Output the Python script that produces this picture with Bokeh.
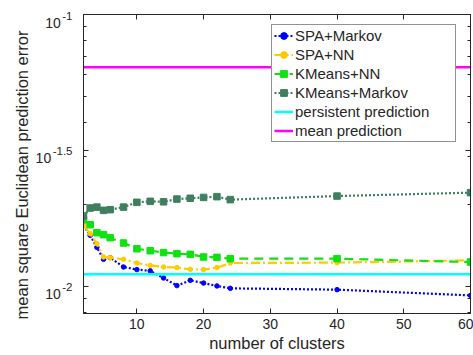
import math

from bokeh.plotting import figure
from bokeh.layouts import row
from bokeh.models import (Range1d, FixedTicker, LinearAxis, LogAxis, Legend,
                          LegendItem, CustomJSTickFormatter)
from bokeh.core.properties import value
from bokeh.embed import file_html
from bokeh.resources import INLINE

# ---- data -------------------------------------------------------------
n_clusters = [2, 3, 4, 5, 6, 8, 10, 12, 14, 16, 18, 20, 22, 24, 40, 60]

spa_markov = [0.01676, 0.01540, 0.01391, 0.01257, 0.01275, 0.01178, 0.01152, 0.01140,
              0.01073, 0.01006, 0.01052, 0.01028, 0.01003, 0.00983, 0.00972, 0.00926]
spa_nn = [0.01676, 0.01562, 0.01435, 0.01282, 0.01275, 0.01257, 0.01218, 0.01194,
          0.01178, 0.01172, 0.01155, 0.01152, 0.01172, 0.01218, 0.01222, 0.01246]
kmeans_nn = [0.01758, 0.01685, 0.01575, 0.01549, 0.01510, 0.01443, 0.01375, 0.01352,
             0.01331, 0.01319, 0.01311, 0.01282, 0.01278, 0.01264, 0.01264, 0.01228]
kmeans_markov = [0.01813, 0.01941, 0.01956, 0.01903, 0.01914, 0.01956, 0.02037, 0.02054,
                 0.02046, 0.02094, 0.02108, 0.02124, 0.02137, 0.02084, 0.02148, 0.02211]
persistent_error = 0.01107
mean_error = 0.0640

x_ticks = [10, 20, 30, 40, 50, 60]
y_exponents = [-2, -1.5, -1]
y_exponent_labels = ["-2", "-1.5", "-1"]
y_minor = [0.008, 0.009, 0.02, 0.03, 0.04, 0.05, 0.06, 0.07, 0.08, 0.09]
y_limits = (10 ** -2.1, 10 ** -1)
x_limits = (2, 60)

# ---- layout / styling -------------------------------------------------
FONT = "Liberation Sans"
AX = "#262626"
TXT = "#262626"

W, H = 473, 355
SIDE_W = 78              # strip holding the y tick labels and the y title
FRAME_LEFT = 83
FRAME_TOP = 14
FRAME_BOTTOM = 313

y_major = [10 ** e for e in y_exponents]
blank = CustomJSTickFormatter(code="return ''")

p = figure(width=W - SIDE_W, height=H, output_backend="svg", toolbar_location=None,
           y_axis_type="log",
           x_range=Range1d(*x_limits), y_range=Range1d(*y_limits),
           min_border_left=FRAME_LEFT - SIDE_W, min_border_right=3,
           min_border_top=FRAME_TOP, min_border_bottom=H - FRAME_BOTTOM)
p.frame_align = False
p.xgrid.visible = False
p.ygrid.visible = False
p.outline_line_color = AX
p.outline_line_width = 1
p.background_fill_color = "white"
p.border_fill_color = "white"

p.xaxis.ticker = FixedTicker(ticks=x_ticks)
p.yaxis.ticker = FixedTicker(ticks=y_major, minor_ticks=y_minor)
p.yaxis.formatter = blank
p.yaxis.major_label_standoff = 0

for ax in (p.xaxis[0], p.yaxis[0]):
    ax.axis_line_color = AX
    ax.major_tick_line_color = AX
    ax.minor_tick_line_color = AX
    ax.major_tick_in = 5
    ax.major_tick_out = 0
    ax.minor_tick_in = 3
    ax.minor_tick_out = 0

p.xaxis.major_label_text_font = FONT
p.xaxis.major_label_text_font_size = "14px"
p.xaxis.major_label_text_color = TXT
p.xaxis.major_label_standoff = 5
p.xaxis.axis_label = "number of clusters"
p.xaxis.axis_label_text_font = FONT
p.xaxis.axis_label_text_font_size = "16.5px"
p.xaxis.axis_label_text_font_style = "normal"
p.xaxis.axis_label_text_color = TXT
p.xaxis.axis_label_standoff = 2

# mirrored axes so the box carries inward ticks on every side
top = LinearAxis(ticker=FixedTicker(ticks=x_ticks), formatter=blank,
                 major_tick_in=5, major_tick_out=0, major_label_standoff=0,
                 axis_line_color=AX, major_tick_line_color=AX)
right = LogAxis(ticker=FixedTicker(ticks=y_major, minor_ticks=y_minor), formatter=blank,
                major_tick_in=5, major_tick_out=0, minor_tick_in=3, minor_tick_out=0,
                major_label_standoff=0, axis_line_color=AX,
                major_tick_line_color=AX, minor_tick_line_color=AX)
p.add_layout(top, "above")
p.add_layout(right, "right")

# ---- series -----------------------------------------------------------
BLUE = "#0000ff"
GOLD = "#ffcc00"
GREEN = "#11e011"
DKGREEN = "#3f7f5f"
CYAN = "#00ffff"
MAGENTA = "#ff00ff"

l1 = p.line(n_clusters, spa_markov, color=BLUE, line_width=2.2, line_dash="2 2")
s1 = p.scatter(n_clusters, spa_markov, marker="circle", size=4.5, color=BLUE)

l2 = p.line(n_clusters, spa_nn, color=GOLD, line_width=2.2, line_dash="9 3 2 3")
s2 = p.scatter(n_clusters, spa_nn, marker="circle", size=4.5, color=GOLD)

l3 = p.line(n_clusters, kmeans_nn, color=GREEN, line_width=2.2, line_dash="9 6")
s3 = p.scatter(n_clusters, kmeans_nn, marker="square", size=6.5, color=GREEN)

l4 = p.line(n_clusters, kmeans_markov, color=DKGREEN, line_width=2.2, line_dash="2 2")
s4 = p.scatter(n_clusters, kmeans_markov, marker="square", size=6.5, color=DKGREEN)

x_span = [n_clusters[0], n_clusters[-1]]
l5 = p.line(x_span, [persistent_error] * 2, color=CYAN, line_width=2.5)
l6 = p.line(x_span, [mean_error] * 2, color=MAGENTA, line_width=2.5)

legend = Legend(items=[
    LegendItem(label="SPA+Markov", renderers=[l1, s1]),
    LegendItem(label="SPA+NN", renderers=[l2, s2]),
    LegendItem(label="KMeans+NN", renderers=[l3, s3]),
    LegendItem(label="KMeans+Markov", renderers=[l4, s4]),
    LegendItem(label="persistent prediction", renderers=[l5]),
    LegendItem(label="mean prediction", renderers=[l6]),
], location=(188, 171), padding=2, spacing=2, label_height=17, glyph_height=17,
    glyph_width=19, label_standoff=2, label_width=158,
    border_line_color=AX, border_line_width=1,
    background_fill_color="white", background_fill_alpha=1,
    label_text_font=FONT, label_text_font_size="15px", label_text_color=TXT)
p.add_layout(legend)

# ---- left strip: "10" with raised exponents, and the y title ------------
# Same log scale as the main frame, stretched over the full canvas height.
lo, hi = math.log10(y_limits[0]), math.log10(y_limits[1])
dec_per_px = (hi - lo) / (FRAME_BOTTOM - FRAME_TOP)
side_hi = 10 ** (hi + FRAME_TOP * dec_per_px)
side_lo = 10 ** (lo - (H - FRAME_BOTTOM) * dec_per_px)

side = figure(width=SIDE_W, height=H, output_backend="svg", toolbar_location=None,
              y_axis_type="log", x_range=Range1d(0, SIDE_W),
              y_range=Range1d(side_lo, side_hi),
              x_axis_location=None, y_axis_location=None, min_border=0)
side.frame_align = False
side.grid.visible = False
side.outline_line_color = None
side.background_fill_color = "white"
side.border_fill_color = "white"

char_w = {"-": 0.333, ".": 0.278}


def text_width(s, size):
    return sum(char_w.get(c, 0.556) for c in s) * size


SUP_SIZE = 11.5
BASE_SIZE = 14
LABEL_RIGHT = 72
exp_x = [LABEL_RIGHT] * len(y_major)
base_x = [LABEL_RIGHT - text_width(s, SUP_SIZE) - 1.5 for s in y_exponent_labels]

side.text(x=exp_x, y=y_major, text=y_exponent_labels, text_align="right",
          text_baseline="alphabetic", y_offset=1,
          text_font=value(FONT), text_font_size=value(f"{SUP_SIZE}px"), text_color=TXT)
side.text(x=base_x, y=y_major, text=["10"] * len(y_major), text_align="right",
          text_baseline="alphabetic", y_offset=8,
          text_font=value(FONT), text_font_size=value(f"{BASE_SIZE}px"), text_color=TXT)

mid_y = 10 ** ((lo + hi) / 2)
side.text(x=[21], y=[mid_y], text=["mean square Euclidean prediction error"],
          angle=math.pi / 2, text_align="center", text_baseline="middle", y_offset=11,
          text_font=value(FONT), text_font_size=value("16.5px"), text_color=TXT)

layout = row(side, p, spacing=0)
open("out.html", "w").write(file_html(layout, INLINE))
